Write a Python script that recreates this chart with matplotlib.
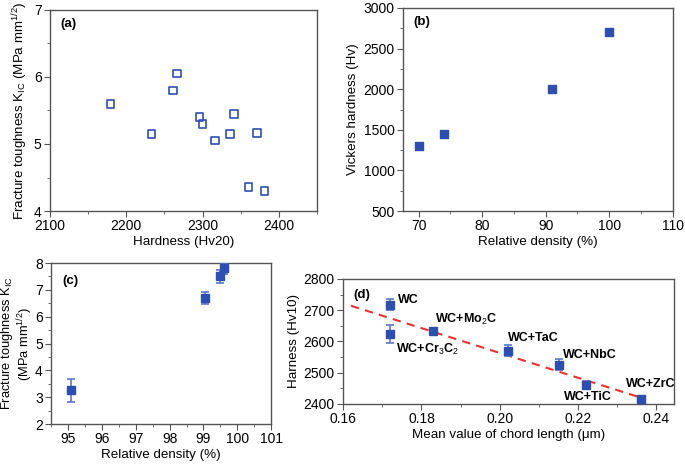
import matplotlib.pyplot as plt
import numpy as np
from matplotlib.ticker import MultipleLocator

plt.rcParams['font.family'] = ['Liberation Sans', 'DejaVu Sans']
plt.rcParams['font.size'] = 9.6
plt.rcParams['mathtext.fontset'] = 'custom'
plt.rcParams['mathtext.rm'] = 'Liberation Sans'
plt.rcParams['mathtext.it'] = 'Liberation Sans'
plt.rcParams['mathtext.bf'] = 'Liberation Sans:bold'

blue = '#2f4fb0'
eblue = '#5b78c8'
grey = '#555555'

# (a) hardness vs fracture toughness
a_hard = [2179, 2233, 2261, 2266, 2296, 2300, 2316, 2336, 2341, 2360, 2371, 2381]
a_kic = [5.60, 5.15, 5.80, 6.05, 5.40, 5.30, 5.05, 5.15, 5.45, 4.36, 5.16, 4.30]

# (b) relative density vs Vickers hardness
b_dens = [70, 74, 91, 100]
b_hv = [1300, 1450, 2000, 2700]

# (c) relative density vs fracture toughness
c_dens = [95.1, 99.05, 99.5, 99.6]
c_kic = [3.25, 6.7, 7.5, 7.8]
c_err = [0.42, 0.22, 0.25, 0.2]

# (d) chord length vs hardness
d_names = ['WC', 'WC+Cr$_3$C$_2$', 'WC+Mo$_2$C', 'WC+TaC', 'WC+NbC', 'WC+TiC', 'WC+ZrC']
d_chord = [0.172, 0.172, 0.183, 0.202, 0.215, 0.222, 0.236]
d_hv = [2718, 2623, 2632, 2570, 2526, 2461, 2415]
d_err = [18, 29, 9, 18, 18, 13, 10]
d_fit_x = [0.162, 0.236]
d_fit_y = [2714, 2420]


def style(ax, xmaj, xmin, ymaj, ymin):
    ax.xaxis.set_major_locator(MultipleLocator(xmaj))
    ax.xaxis.set_minor_locator(MultipleLocator(xmin))
    ax.yaxis.set_major_locator(MultipleLocator(ymaj))
    ax.yaxis.set_minor_locator(MultipleLocator(ymin))
    ax.tick_params(which='both', direction='out', top=False, right=False,
                   color=grey, labelsize=10, pad=2)
    ax.tick_params(which='major', length=4)
    ax.tick_params(which='minor', length=2.5)
    for s in ax.spines.values():
        s.set_color(grey)
        s.set_linewidth(1.0)


fig = plt.figure(figsize=(6.85, 4.68), dpi=100)

ax1 = fig.add_axes([0.073, 0.549, 0.390, 0.430])
ax1.scatter(a_hard, a_kic, marker='s', s=30, facecolors='none',
            edgecolors=blue, linewidths=1.2, zorder=3)
ax1.set_xlim(2100, 2450)
ax1.set_ylim(4, 7)
style(ax1, 100, 50, 1, 0.5)
ax1.set_xlabel('Hardness (Hv20)', labelpad=2)
ax1.set_ylabel('Fracture toughness K$_{IC}$ (MPa mm$^{1/2}$)', labelpad=3)
ax1.text(0.04, 0.93, '(a)', transform=ax1.transAxes, fontweight='bold', va='center')

ax2 = fig.add_axes([0.588, 0.549, 0.394, 0.434])
ax2.scatter(b_dens, b_hv, marker='s', s=36, color=blue, zorder=3)
ax2.set_xlim(67.5, 110)
ax2.set_ylim(500, 3000)
style(ax2, 10, 5, 500, 250)
ax2.set_xlabel('Relative density (%)', labelpad=2)
ax2.set_ylabel('Vickers hardness (Hv)', labelpad=3)
ax2.text(0.04, 0.93, '(b)', transform=ax2.transAxes, fontweight='bold', va='center')

ax3 = fig.add_axes([0.0745, 0.094, 0.3215, 0.344])
ax3.errorbar(c_dens, c_kic, yerr=c_err, fmt='s', ms=6, color=blue,
             ecolor=eblue, elinewidth=1.2, capsize=3, capthick=1.2, zorder=3)
ax3.set_xlim(94.5, 101)
ax3.set_ylim(2, 8)
style(ax3, 1, 0.5, 1, 0.5)
ax3.set_xlabel('Relative density (%)', labelpad=2)
ax3.set_ylabel('Fracture toughness K$_{IC}$\n(MPa mm$^{1/2}$)', fontsize=9.3,
               linespacing=1.0)
ax3.yaxis.set_label_coords(-0.075, 0.5)
ax3.text(0.05, 0.89, '(c)', transform=ax3.transAxes, fontweight='bold', va='center')

ax4 = fig.add_axes([0.501, 0.137, 0.483, 0.267])
ax4.plot(d_fit_x, d_fit_y, '--', color='#e8322e', lw=1.5, dashes=(4, 3), zorder=2)
ax4.errorbar(d_chord, d_hv, yerr=d_err, fmt='s', ms=6, color=blue,
             ecolor=eblue, elinewidth=1.2, capsize=3, capthick=1.2, zorder=3)
ax4.set_xlim(0.16, 0.2445)
ax4.set_ylim(2400, 2800)
style(ax4, 0.02, 0.01, 100, 50)
ax4.xaxis.set_major_formatter(lambda v, p: f'{v:.2f}')
ax4.set_xlabel('Mean value of chord length (\u03bcm)', labelpad=2)
ax4.set_ylabel('Harness (Hv10)', labelpad=3)
ax4.text(0.03, 0.87, '(d)', transform=ax4.transAxes, fontweight='bold', va='center')

offsets = [(8, 5), (6, -15), (2, 12), (0, 13), (4, 10), (-22, -12), (-15, 15)]
for name, x, y, off in zip(d_names, d_chord, d_hv, offsets):
    ax4.annotate(name, (x, y), xytext=off, textcoords='offset pixels',
                 ha='left', va='center', fontsize=9, fontweight='bold')

fig.savefig('out.png', dpi=100)
